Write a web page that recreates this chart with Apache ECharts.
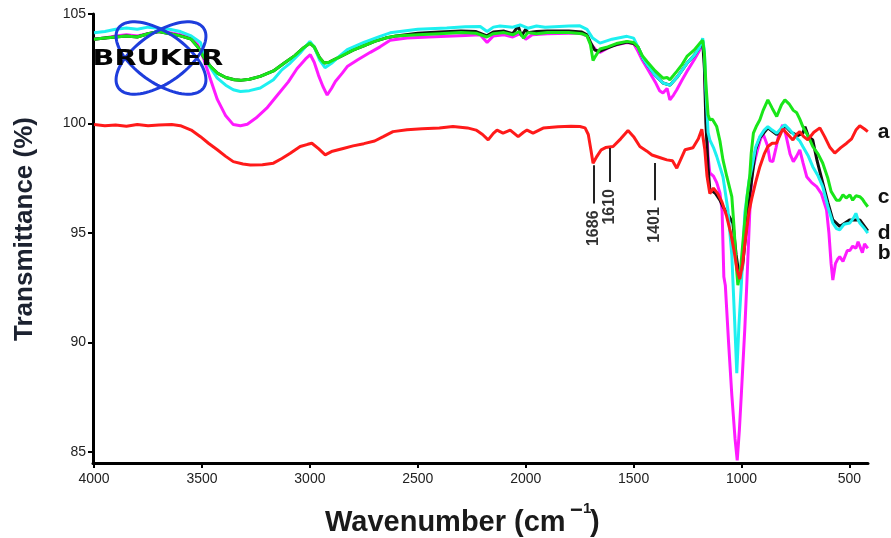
<!DOCTYPE html>
<html>
<head>
<meta charset="utf-8">
<script src="https://cdn.jsdelivr.net/npm/echarts@6/dist/echarts.min.js"></script>
<style>
  html, body { margin: 0; padding: 0; background: #ffffff; }
  #chart { width: 891px; height: 538px; }
</style>
</head>
<body>
<div id="chart"></div>
<script>
// FTIR spectra: transmittance (%) against wavenumber (cm-1)
const wavenumberTicks = [4000, 3500, 3000, 2500, 2000, 1500, 1000, 500];
const transmittanceTicks = [85, 90, 95, 100, 105];
const peakMarks = [1686, 1610, 1401];

// spectrum a
const spectrumA = [
  [4000,99.95],[3950,99.9],[3900,99.93],[3850,99.88],[3800,99.95],[3750,99.9],[3700,99.93],[3640,99.95],
  [3600,99.9],[3550,99.7],[3507,99.4],[3470,99.1],[3429,98.8],[3390,98.5],[3355,98.26],[3310,98.15],
  [3276,98.11],[3220,98.12],[3169,98.19],[3130,98.4],[3091,98.64],[3045,98.95],[3010,99.05],[2991,99.1],
  [2960,98.85],[2929,98.57],[2900,98.72],[2850,98.85],[2800,98.98],[2750,99.08],[2700,99.2],[2660,99.4],
  [2615,99.63],[2550,99.72],[2480,99.76],[2400,99.8],[2337,99.86],[2270,99.8],[2230,99.7],[2200,99.5],
  [2174,99.25],[2150,99.55],[2133,99.7],[2105,99.56],[2072,99.7],[2035,99.4],[2010,99.6],[1994,99.7],
  [1966,99.56],[1919,99.79],[1850,99.85],[1790,99.87],[1749,99.86],[1725,99.8],[1710,99.5],[1698,98.8],
  [1688,98.19],[1670,98.5],[1650,98.8],[1630,98.9],[1595,98.95],[1560,99.3],[1526,99.68],[1500,99.4],
  [1471,98.95],[1440,98.75],[1415,98.56],[1380,98.45],[1346,98.34],[1320,98.3],[1300,97.96],[1280,98.4],
  [1262,98.8],[1225,98.89],[1200,99.3],[1184,99.74],[1170,98.8],[1160,97.6],[1147,96.8],[1130,97.05],
  [1110,96.8],[1090,96.4],[1070,95.8],[1050,95.0],[1035,94.2],[1020,93.3],[1008,92.9],[995,93.6],
  [980,94.9],[965,96.0],[952,96.6],[935,97.3],[915,98.03],[895,98.6],[878,98.95],[858,99.1],
  [838,99.1],[820,99.5],[809,99.75],[785,99.5],[762,99.25],[745,99.5],[730,99.63],[712,99.4],
  [693,99.25],[665,99.6],[637,99.8],[615,99.4],[590,98.9],[568,98.65],[540,98.9],[513,99.1],
  [490,99.3],[470,99.7],[452,99.9],[430,99.75],[415,99.63]
];

// spectrum b
const spectrumB = [
  [4000,103.86],[3950,103.9],[3900,104.0],[3850,104.05],[3800,104.0],[3750,104.1],[3700,104.2],[3650,104.15],
  [3600,104.05],[3550,103.9],[3520,103.6],[3490,102.9],[3460,102.0],[3429,101.1],[3390,100.35],[3355,99.95],
  [3322,99.9],[3290,99.97],[3250,100.25],[3200,100.7],[3150,101.3],[3100,101.9],[3060,102.5],[3020,102.95],
  [2998,103.14],[2980,102.8],[2960,102.2],[2940,101.7],[2920,101.3],[2900,101.6],[2882,101.92],[2850,102.3],
  [2827,102.6],[2780,102.9],[2720,103.25],[2675,103.5],[2628,103.8],[2550,103.9],[2450,103.95],[2366,103.98],
  [2280,104.02],[2211,104.05],[2179,103.7],[2150,104.0],[2100,104.05],[2060,103.95],[2026,104.1],[2000,103.85],
  [1970,104.05],[1900,104.1],[1800,104.12],[1749,104.13],[1716,104.0],[1695,103.6],[1670,103.3],[1656,103.25],
  [1600,103.55],[1531,103.7],[1500,103.65],[1480,103.3],[1460,102.9],[1438,102.53],[1400,101.9],[1380,101.5],
  [1364,101.39],[1345,101.6],[1332,101.08],[1315,101.3],[1300,101.54],[1275,102.0],[1253,102.38],[1220,102.9],
  [1193,103.37],[1180,103.7],[1172,103.0],[1165,100.5],[1155,98.5],[1147,97.74],[1130,97.6],[1115,97.3],
  [1100,96.83],[1090,96.0],[1082,93.0],[1075,92.6],[1060,90.0],[1045,87.6],[1030,85.6],[1020,84.62],
  [1010,86.0],[1000,87.8],[985,90.6],[975,92.8],[962,95.9],[952,97.74],[930,98.65],[915,99.2],
  [901,99.56],[880,99.0],[868,98.3],[855,98.26],[840,98.9],[825,99.6],[809,99.94],[795,99.5],
  [775,98.6],[760,98.26],[745,98.5],[730,98.8],[715,98.2],[698,97.57],[675,97.3],[652,97.12],
  [630,96.8],[606,96.05],[595,95.0],[585,93.6],[577,92.85],[565,93.6],[555,93.8],[545,93.92],
  [530,93.7],[520,93.95],[510,94.2],[498,94.2],[485,94.4],[470,94.3],[460,94.6],[452,94.55],
  [440,94.1],[430,94.5],[415,94.3]
];

// spectrum c
const spectrumC = [
  [4000,103.85],[3950,103.9],[3900,103.95],[3850,104.0],[3800,103.95],[3750,104.1],[3700,104.2],[3650,104.1],
  [3600,104.0],[3550,103.85],[3520,103.5],[3490,103.0],[3460,102.6],[3429,102.3],[3390,102.1],[3350,102.0],
  [3322,101.97],[3280,102.02],[3230,102.15],[3169,102.4],[3120,102.75],[3070,103.1],[3030,103.45],[3000,103.67],
  [2980,103.5],[2955,103.0],[2935,102.76],[2910,102.8],[2880,102.95],[2850,103.1],[2800,103.35],[2750,103.55],
  [2700,103.75],[2650,103.9],[2600,104.0],[2500,104.05],[2400,104.1],[2300,104.15],[2230,104.12],[2180,103.95],
  [2150,104.1],[2100,104.15],[2060,104.05],[2030,104.2],[2010,103.9],[1990,104.15],[1950,104.1],[1900,104.15],
  [1800,104.15],[1740,104.1],[1716,104.0],[1700,103.6],[1688,102.88],[1675,103.1],[1656,103.4],[1620,103.5],
  [1580,103.65],[1531,103.75],[1500,103.7],[1480,103.5],[1460,103.1],[1438,102.83],[1400,102.4],[1364,102.07],
  [1345,102.1],[1332,102.0],[1315,102.2],[1300,102.38],[1275,102.7],[1253,103.06],[1220,103.35],[1193,103.67],
  [1180,103.8],[1172,103.2],[1165,101.8],[1155,100.4],[1147,100.17],[1135,100.2],[1115,99.86],[1100,99.2],
  [1086,98.34],[1068,97.57],[1045,96.66],[1035,95.3],[1025,93.6],[1017,92.62],[1005,93.3],[990,95.0],
  [975,96.6],[962,97.6],[955,98.65],[945,99.56],[930,99.9],[915,100.17],[900,100.6],[878,101.08],
  [858,100.7],[837,100.32],[815,100.85],[799,101.08],[780,100.9],[760,100.6],[744,100.49],[730,100.2],
  [716,99.86],[690,99.4],[670,98.95],[645,98.6],[624,98.2],[600,97.5],[585,96.9],[577,96.83],
  [560,96.5],[545,96.5],[530,96.75],[515,96.6],[498,96.74],[485,96.5],[470,96.7],[452,96.66],
  [440,96.55],[430,96.4],[415,96.2]
];

// spectrum d
const spectrumD = [
  [4000,104.14],[3950,104.2],[3900,104.3],[3850,104.36],[3800,104.3],[3750,104.4],[3700,104.35],[3650,104.3],
  [3600,104.2],[3550,104.0],[3507,103.7],[3475,102.77],[3429,102.07],[3390,101.75],[3355,101.54],[3322,101.46],
  [3280,101.5],[3230,101.62],[3169,102.0],[3130,102.45],[3091,102.76],[3045,103.22],[3000,103.75],[2980,103.5],
  [2955,102.9],[2930,102.55],[2900,102.75],[2860,103.1],[2827,103.37],[2750,103.7],[2675,103.98],[2628,104.14],
  [2500,104.3],[2366,104.36],[2280,104.42],[2211,104.43],[2179,104.2],[2150,104.4],[2119,104.45],[2060,104.4],
  [2026,104.5],[1990,104.35],[1950,104.45],[1910,104.4],[1800,104.45],[1749,104.46],[1716,104.3],[1690,103.9],
  [1656,103.67],[1600,103.85],[1531,103.98],[1500,103.9],[1480,103.5],[1455,102.95],[1438,102.7],[1400,102.2],
  [1364,101.85],[1332,101.75],[1300,102.1],[1253,102.75],[1220,103.1],[1193,103.5],[1180,103.9],[1172,103.3],
  [1165,101.5],[1155,99.6],[1147,99.25],[1130,98.9],[1115,98.5],[1086,97.57],[1063,96.05],[1045,94.0],
  [1032,91.0],[1022,88.6],[1012,90.8],[1000,92.8],[985,95.9],[965,97.4],[952,98.0],[935,98.9],
  [915,99.4],[895,99.7],[878,99.86],[858,99.7],[837,99.56],[815,99.8],[799,99.94],[775,99.7],
  [750,99.4],[730,99.2],[716,98.95],[690,98.5],[670,98.03],[645,97.6],[624,97.12],[600,96.2],
  [577,95.46],[560,95.2],[545,95.14],[525,95.4],[498,95.46],[480,95.7],[470,95.9],[460,95.6],
  [452,95.46],[430,95.2],[415,95.0]
];

// unlabelled trace (black)
const spectrumE = [
  [4000,103.85],[3950,103.9],[3900,103.95],[3850,104.0],[3800,103.95],[3750,104.1],[3700,104.2],[3650,104.1],
  [3600,104.0],[3550,103.85],[3520,103.5],[3490,103.0],[3460,102.6],[3429,102.3],[3390,102.1],[3350,102.0],
  [3322,101.97],[3280,102.02],[3230,102.15],[3169,102.4],[3120,102.75],[3070,103.1],[3030,103.45],[3000,103.67],
  [2980,103.5],[2955,103.0],[2935,102.76],[2910,102.8],[2880,102.95],[2850,103.1],[2800,103.35],[2750,103.55],
  [2700,103.75],[2650,103.9],[2600,104.0],[2500,104.12],[2400,104.18],[2300,104.22],[2230,104.2],[2180,104.0],
  [2150,104.18],[2100,104.22],[2060,104.1],[2035,104.45],[2020,104.0],[2000,104.3],[1990,104.15],[1950,104.2],
  [1900,104.22],[1800,104.22],[1740,104.18],[1716,104.05],[1700,103.7],[1680,103.35],[1656,103.3],[1620,103.45],
  [1580,103.6],[1531,103.72],[1500,103.65],[1480,103.5],[1455,102.95],[1438,102.7],[1400,102.2],[1364,101.85],
  [1332,101.75],[1300,102.1],[1253,102.75],[1220,103.1],[1193,103.5],[1180,103.75],[1172,102.5],[1165,100.0],
  [1155,98.0],[1147,97.0],[1120,96.8],[1100,96.5],[1086,96.2],[1060,95.8],[1040,95.45],[1025,94.0],
  [1008,92.85],[995,93.5],[980,95.0],[965,96.5],[952,97.5],[935,98.8],[915,99.35],[878,99.8],
  [837,99.5],[799,99.9],[770,99.6],[740,99.45],[716,99.56],[706,99.85],[690,99.4],[684,99.48],
  [670,99.25],[650,98.3],[624,97.3],[600,96.4],[577,95.6],[545,95.3],[498,95.6],[452,95.6],[415,95.1]
];

// vertical marker spans below the labelled bands of spectrum a
const peakSpanTop = [98.1, 98.88, 98.2];
const peakSpanBottom = [96.35, 97.33, 96.5];

const chart = echarts.init(document.getElementById('chart'), null, { renderer: 'canvas' });

function traceSeries(name, data, color) {
  return {
    name: name,
    type: 'line',
    data: data,
    showSymbol: false,
    symbol: 'none',
    smooth: false,
    lineStyle: { color: color, width: 3 },
    itemStyle: { color: color },
    emphasis: { disabled: true },
    silent: true
  };
}

// drawing order, bottom to top
const traces = [
  { name: 'b', data: spectrumB, color: '#ff1aff', tag: 'b', dy: 5 },
  { name: 'e', data: spectrumE, color: '#111111', tag: null, dy: 0 },
  { name: 'd', data: spectrumD, color: '#1df0f0', tag: 'd', dy: 0 },
  { name: 'c', data: spectrumC, color: '#19e619', tag: 'c', dy: -10 },
  { name: 'a', data: spectrumA, color: '#ff1a1a', tag: 'a', dy: 1 }
];

const series = traces.map(t => traceSeries(t.name, t.data, t.color));

series.push({
  name: 'marks',
  type: 'line',
  data: [],
  silent: true,
  markLine: {
    silent: true,
    symbol: ['none', 'none'],
    label: { show: false },
    lineStyle: { color: '#222', width: 2, type: 'solid' },
    data: peakMarks.map((wn, i) => [
      { coord: [wn, peakSpanTop[i]] },
      { coord: [wn, peakSpanBottom[i]] }
    ])
  }
});

const axisFont = { fontFamily: 'Liberation Sans', fontSize: 14, color: '#222' };

const option = {
  animation: false,
  backgroundColor: '#ffffff',
  grid: { left: 93, right: 23, top: 14, bottom: 75 },
  xAxis: {
    type: 'value',
    inverse: true,
    min: 414,
    max: 4005,
    axisLine: { show: true, onZero: false, lineStyle: { color: '#000', width: 3 } },
    axisTick: { show: true, inside: false, length: 5, lineStyle: { color: '#000', width: 2 }, customValues: wavenumberTicks },
    axisLabel: Object.assign({ margin: 9, customValues: wavenumberTicks, formatter: v => String(v) }, axisFont),
    splitLine: { show: false }
  },
  yAxis: {
    type: 'value',
    min: 84.5,
    max: 105,
    axisLine: { show: true, onZero: false, lineStyle: { color: '#000', width: 3 } },
    axisTick: { show: true, inside: false, length: 5, lineStyle: { color: '#000', width: 2 }, customValues: transmittanceTicks },
    axisLabel: Object.assign({ margin: 7, customValues: transmittanceTicks, formatter: v => String(v) }, axisFont),
    splitLine: { show: false }
  },
  series: series
};

chart.setOption(option);

// Bruker logo: two crossed orbits with the word mark across them
function orbit(cx, cy, a, b, deg) {
  const t = deg * Math.PI / 180;
  const pts = [];
  for (let i = 0; i < 90; i++) {
    const u = i / 90 * 2 * Math.PI;
    const ex = a * Math.cos(u), ey = b * Math.sin(u);
    pts.push([cx + ex * Math.cos(t) - ey * Math.sin(t), cy + ex * Math.sin(t) + ey * Math.cos(t)]);
  }
  return pts;
}

function txt(extra, style) {
  return Object.assign({ type: 'text' }, extra, {
    style: Object.assign({
      fontFamily: 'Liberation Sans', fill: '#111',
      textAlign: style.align, textVerticalAlign: style.verticalAlign
    }, style)
  });
}

const graphics = [
  { type: 'polygon', z: 100, shape: { points: orbit(161, 58, 52, 25, 35) }, style: { fill: 'none', stroke: '#1e3ddc', lineWidth: 3 } },
  { type: 'polygon', z: 100, shape: { points: orbit(161, 58, 52, 25, -35) }, style: { fill: 'none', stroke: '#1e3ddc', lineWidth: 3 } },
  txt({ z: 101, x: 158, y: 59, scaleX: 1.3 }, {
    text: 'BRUKER', fontFamily: 'DejaVu Sans', fontSize: 22, fontWeight: 'bold', fill: '#050505',
    align: 'center', verticalAlign: 'middle'
  }),
  // axis titles
  txt({ x: 25, y: 229, rotation: Math.PI / 2 }, {
    text: 'Transmittance (%)', fontSize: 26, fontWeight: 'bold', fill: '#1c2230',
    align: 'center', verticalAlign: 'middle'
  }),
  txt({ x: 325, y: 523 }, {
    text: 'Wavenumber (cm', fontSize: 29, fontWeight: 'bold', fill: '#1a1a1a',
    align: 'left', verticalAlign: 'middle'
  }),
  txt({ x: 570, y: 511 }, {
    text: '\u2212', fontSize: 22, fontWeight: 'bold', fill: '#1a1a1a',
    align: 'left', verticalAlign: 'middle'
  }),
  txt({ x: 583, y: 509 }, {
    text: '1', fontSize: 15, fontWeight: 'bold', fill: '#1a1a1a',
    align: 'left', verticalAlign: 'middle'
  }),
  txt({ x: 590, y: 523 }, {
    text: ')', fontSize: 29, fontWeight: 'bold', fill: '#1a1a1a',
    align: 'left', verticalAlign: 'middle'
  })
];

// sample tags just past the last point of each trace
traces.forEach(t => {
  if (!t.tag) return;
  const last = t.data[t.data.length - 1];
  const p = chart.convertToPixel({ gridIndex: 0 }, last);
  graphics.push(txt({ x: p[0] + 10, y: p[1] + t.dy }, {
    text: t.tag, fontSize: 21, fontWeight: 'bold', fill: '#111',
    align: 'left', verticalAlign: 'middle'
  }));
});

// rotated wavenumber labels under each marker
peakMarks.forEach((wn, i) => {
  const p = chart.convertToPixel({ gridIndex: 0 }, [wn, peakSpanBottom[i]]);
  graphics.push(txt({ z: 50, x: p[0], y: p[1] + 7, rotation: Math.PI / 2 }, {
    text: String(wn), fontSize: 16, fontWeight: 'bold', fill: '#333',
    align: 'right', verticalAlign: 'middle'
  }));
});

chart.setOption({ graphic: graphics });
</script>
</body>
</html>
